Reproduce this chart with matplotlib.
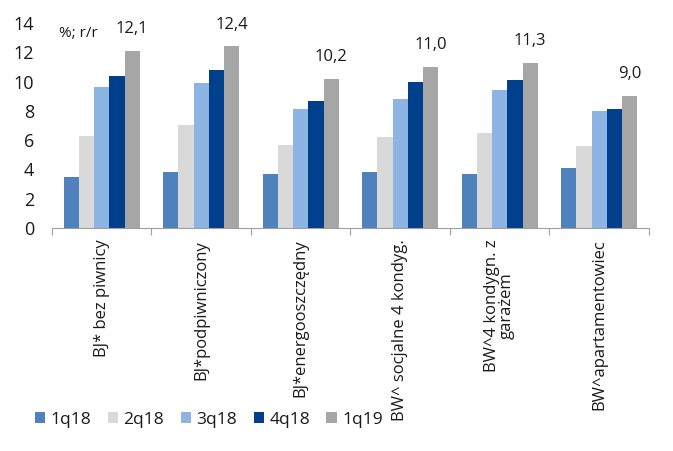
import matplotlib
matplotlib.use("Agg")
import matplotlib.pyplot as plt
import numpy as np

categories = ["BJ* bez piwnicy", "BJ*podpiwniczony", "BJ*energooszczędny",
              "BW^ socjalne 4 kondyg.", "BW^4 kondygn. z\ngarażem", "BW^apartamentowiec"]
series_names = ["1q18", "2q18", "3q18", "4q18", "1q19"]
v_1q18 = [3.5, 3.8, 3.7, 3.8, 3.7, 4.1]
v_2q18 = [6.3, 7.0, 5.7, 6.2, 6.5, 5.6]
v_3q18 = [9.6, 9.9, 8.1, 8.8, 9.4, 8.0]
v_4q18 = [10.4, 10.8, 8.7, 10.0, 10.1, 8.1]
v_1q19 = [12.1, 12.4, 10.2, 11.0, 11.3, 9.0]
value_labels = ["12,1", "12,4", "10,2", "11,0", "11,3", "9,0"]
yticks = [0, 2, 4, 6, 8, 10, 12, 14]
unit_label = "%; r/r"

plt.rcParams['font.family'] = ['Open Sans', 'DejaVu Sans']

colors = ["#4F81BD", "#D9D9D9", "#8DB4E2", "#003F8C", "#A6A6A6"]
series = [v_1q18, v_2q18, v_3q18, v_4q18, v_1q19]
txt = "#1a1a1a"

fig = plt.figure(figsize=(6.73, 4.51), dpi=100)
ax = fig.add_axes([52/673, 1-228/451, (649-52)/673, (228-23)/451])

n = len(categories)
x = np.arange(n)
w = 0.153
for i, (vals, c, name) in enumerate(zip(series, colors, series_names)):
    ax.bar(x + (i - 2) * w, vals, width=w, color=c, label=name, linewidth=0)

for xi, v, lab in zip(x, v_1q19, value_labels):
    ax.annotate(lab, (xi + 2 * w, v), xytext=(0, 10), textcoords="offset points",
                ha="center", va="bottom", fontsize=12, color=txt)

ax.set_xlim(-0.5, n - 0.5)
ax.set_ylim(0, 14)
ax.set_yticks(yticks)
ax.set_yticklabels([str(t) for t in yticks], fontsize=13, color=txt)
ax.tick_params(axis="y", length=0, pad=13)
ax.set_xticks(np.arange(n + 1) - 0.5)
ax.set_xticklabels([])
ax.tick_params(axis="x", length=5, color="#A0A0A0", width=0.8)
for s in ["top", "right", "left"]:
    ax.spines[s].set_visible(False)
ax.spines["bottom"].set_color("#A0A0A0")
ax.spines["bottom"].set_linewidth(0.8)

for xi, cat in zip(x, categories):
    ax.text(xi, -0.8, cat, rotation=90, ha="center", va="top", fontsize=12,
            color=txt, multialignment="center", linespacing=0.9)

ax.text(0.012, 0.95, unit_label, transform=ax.transAxes, ha="left", va="center",
        fontsize=11, color=txt)

leg = fig.legend(loc="center left", bbox_to_anchor=(0.052, 0.069), ncol=5, frameon=False,
                 handlelength=0.6, handleheight=0.6, handletextpad=0.3,
                 columnspacing=0.95, borderpad=0, borderaxespad=0,
                 prop={"size": 12.5})
for t in leg.get_texts():
    t.set_color(txt)

fig.savefig("out.png", dpi=100)
